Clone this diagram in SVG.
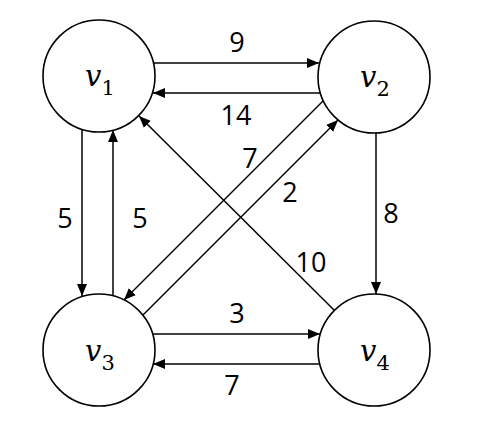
<svg xmlns="http://www.w3.org/2000/svg" width="499" height="430" viewBox="0 0 499 430">
  <style>
    .node circle { fill: #fff; stroke: #000; stroke-width: 1.6; }
    .nl { font-family: "DejaVu Serif", "Liberation Serif", serif; font-style: italic; font-size: 29px; fill: #000; }
    .sub { font-family: "DejaVu Serif", "Liberation Serif", serif; font-style: normal; font-size: 21px; }
    .edge { stroke: #000; stroke-width: 1.5; fill: none; marker-end: url(#arr); }
    .el { font-family: "Open Sans", "Liberation Sans", sans-serif; font-size: 27px; fill: #000; text-anchor: middle; }
  </style>
  <defs>
    <marker id="arr" markerUnits="userSpaceOnUse" markerWidth="12" markerHeight="10" refX="12" refY="5" orient="auto">
      <path d="M0,0 L12,5 L0,10 z" fill="#000"/>
    </marker>
  </defs>
  <rect width="499" height="430" fill="#fff"/>
  <g id="connectors">
    <line class="edge" x1="154" y1="63" x2="319" y2="63"/>
    <line class="edge" x1="320" y1="93" x2="153" y2="93"/>
    <line class="edge" x1="82" y1="129" x2="82" y2="296"/>
    <line class="edge" x1="113" y1="296" x2="113" y2="130"/>
    <line class="edge" x1="376" y1="133" x2="376" y2="294"/>
    <line class="edge" x1="153" y1="334" x2="320" y2="334"/>
    <line class="edge" x1="320" y1="364" x2="153" y2="364"/>
    <line class="edge" x1="335" y1="311" x2="139" y2="116"/>
    <line class="edge" x1="323" y1="101" x2="124" y2="300"/>
    <line class="edge" x1="143" y1="315" x2="338" y2="120"/>
    <text class="el" x="237" y="52">9</text>
    <text class="el" x="236" y="125">14</text>
    <text class="el" x="65" y="228">5</text>
    <text class="el" x="140" y="228">5</text>
    <text class="el" x="250" y="168">7</text>
    <text class="el" x="290" y="202">2</text>
    <text class="el" x="391" y="223">8</text>
    <text class="el" x="311" y="272">10</text>
    <text class="el" x="237" y="323">3</text>
    <text class="el" x="232" y="395">7</text>
  </g>
  <g id="v1" class="node">
    <circle cx="99" cy="76" r="56"/>
    <text class="nl" x="85" y="86">v<tspan class="sub" dy="9">1</tspan></text>
  </g>
  <g id="v2" class="node">
    <circle cx="374" cy="77" r="56"/>
    <text class="nl" x="360" y="87">v<tspan class="sub" dy="9">2</tspan></text>
  </g>
  <g id="v3" class="node">
    <circle cx="99" cy="350" r="56"/>
    <text class="nl" x="85" y="361">v<tspan class="sub" dy="9">3</tspan></text>
  </g>
  <g id="v4" class="node">
    <circle cx="374" cy="350" r="56"/>
    <text class="nl" x="360" y="361">v<tspan class="sub" dy="9">4</tspan></text>
  </g>
</svg>
